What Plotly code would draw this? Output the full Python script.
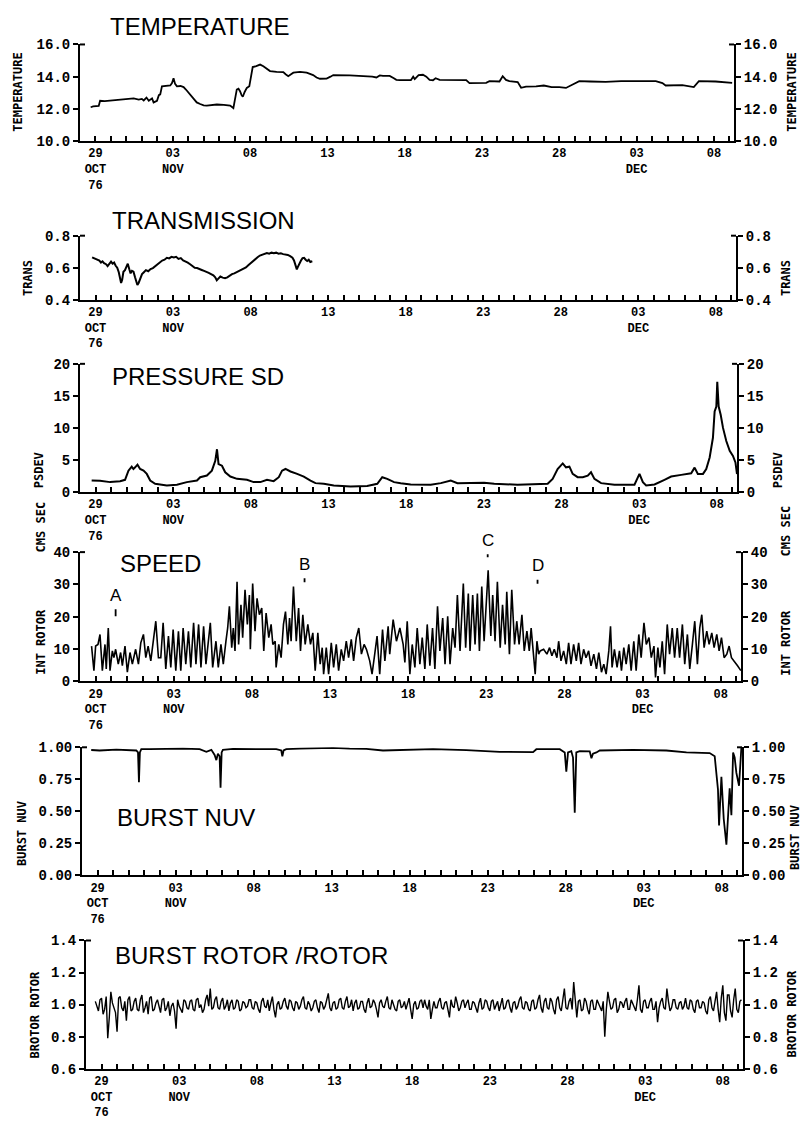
import plotly.graph_objects as go

W, H = 801, 1122

# ---------------- data (x = days since 28 Oct 1976 00:00) ----------------
TICK_DAYS = [1, 6, 11, 16, 21, 26, 31, 36, 41]
TICK_LABELS = ["29<br>OCT<br>76", "03<br>NOV", "08", "13", "18", "23", "28", "03<br>DEC", "08"]
X_RANGE = [0, 42.3]

TEMP_DAY = [0.69, 0.85, 1.21, 1.30, 1.60, 2.0, 2.61, 3.0, 3.47, 3.8, 4.0, 4.12, 4.3, 4.45, 4.66, 4.76,
            4.98, 5.10, 5.19, 5.30, 5.60, 5.84, 5.95, 6.05, 6.15, 6.27, 6.50, 6.70, 6.85, 7.02, 7.20,
            7.34, 7.55, 7.77, 8.00, 8.20, 8.50, 8.85, 9.30, 9.71, 9.92, 10.03, 10.14, 10.25, 10.35,
            10.45, 10.53, 10.65, 10.79, 10.95, 11.10, 11.17, 11.40, 11.65, 11.86, 12.05, 12.29, 12.72,
            13.15, 13.30, 13.47, 13.65, 13.80, 14.23, 14.66, 15.08, 15.30, 15.52, 15.95, 16.20, 16.38,
            17.45, 18.53, 18.90, 19.17, 19.39, 19.60, 20.03, 20.30, 20.46, 20.68, 21.40, 21.55, 21.65,
            21.90, 22.18, 22.40, 22.61, 22.83, 23.00, 23.26, 24.98, 25.19, 26.27, 26.48, 27.13, 27.34,
            27.55, 27.77, 28.31, 28.53, 28.85, 29.50, 30.00, 30.50, 31.00, 31.43, 31.86, 32.29, 33.00,
            34.00, 35.00, 36.00, 37.24, 37.67, 37.88, 38.96, 39.39, 39.70, 40.03, 41.11, 42.18]
TEMP_VAL = [12.10, 12.15, 12.18, 12.50, 12.48, 12.52, 12.55, 12.60, 12.65, 12.58, 12.62, 12.52, 12.70,
            12.50, 12.65, 12.40, 12.50, 12.85, 12.90, 13.40, 13.42, 13.45, 13.60, 13.90, 13.55, 13.40,
            13.42, 13.35, 13.20, 13.00, 12.80, 12.60, 12.40, 12.30, 12.22, 12.20, 12.25, 12.27, 12.25,
            12.20, 12.05, 12.70, 13.20, 13.25, 13.10, 12.85, 12.75, 13.05, 13.30, 13.40, 14.20, 14.60,
            14.65, 14.75, 14.65, 14.50, 14.35, 14.30, 14.28, 14.15, 14.03, 14.15, 14.25, 14.30, 14.25,
            14.10, 13.95, 13.87, 13.88, 14.00, 14.10, 14.08, 14.05, 14.00, 13.95, 14.08, 14.05, 14.05,
            13.90, 13.80, 13.78, 13.78, 14.00, 13.85, 14.10, 14.12, 14.00, 13.80, 13.78, 13.90, 13.80,
            13.78, 13.60, 13.62, 13.72, 13.70, 14.03, 13.80, 13.72, 13.66, 13.31, 13.38, 13.40, 13.45,
            13.35, 13.35, 13.30, 13.50, 13.72, 13.70, 13.68, 13.72, 13.70, 13.72, 13.60, 13.45, 13.48,
            13.38, 13.35, 13.72, 13.70, 13.62]

TRANS_DAY = [0.78, 0.95, 1.10, 1.25, 1.35, 1.45, 1.55, 1.68, 1.78, 1.90, 2.00, 2.10, 2.20, 2.30, 2.40,
             2.50, 2.58, 2.65, 2.72, 2.80, 2.90, 3.00, 3.08, 3.18, 3.26, 3.35, 3.45, 3.55, 3.62, 3.70,
             3.78, 3.88, 4.00, 4.12, 4.25, 4.40, 4.55, 4.70, 4.85, 5.00, 5.15, 5.30, 5.45, 5.60, 5.75,
             5.90, 6.05, 6.20, 6.35, 6.50, 6.65, 6.80, 6.95, 7.10, 7.25, 7.40, 7.55, 7.70, 7.85, 8.00,
             8.15, 8.30, 8.45, 8.60, 8.72, 8.82, 8.92, 9.05, 9.20, 9.35, 9.50, 9.65, 9.80, 9.95, 10.10,
             10.25, 10.40, 10.55, 10.70, 10.85, 11.00, 11.15, 11.30, 11.45, 11.60, 11.75, 11.90, 12.05,
             12.20, 12.35, 12.50, 12.65, 12.80, 12.95, 13.10, 13.25, 13.40, 13.55, 13.70, 13.80, 13.90,
             13.98, 14.05, 14.15, 14.25, 14.35, 14.45, 14.55, 14.65, 14.75, 14.85, 14.98]
TRANS_VAL = [0.665, 0.658, 0.650, 0.644, 0.632, 0.640, 0.628, 0.622, 0.610, 0.630, 0.638, 0.625, 0.632,
             0.612, 0.600, 0.572, 0.530, 0.505, 0.525, 0.575, 0.585, 0.615, 0.625, 0.590, 0.565, 0.580,
             0.575, 0.540, 0.510, 0.492, 0.505, 0.530, 0.560, 0.572, 0.585, 0.578, 0.592, 0.598, 0.610,
             0.622, 0.635, 0.645, 0.650, 0.662, 0.658, 0.668, 0.664, 0.668, 0.655, 0.660, 0.645, 0.640,
             0.632, 0.622, 0.610, 0.600, 0.598, 0.590, 0.586, 0.580, 0.575, 0.568, 0.560, 0.552, 0.540,
             0.522, 0.532, 0.545, 0.538, 0.535, 0.540, 0.552, 0.560, 0.565, 0.572, 0.580, 0.585, 0.595,
             0.602, 0.615, 0.628, 0.645, 0.655, 0.665, 0.676, 0.682, 0.690, 0.692, 0.688, 0.694, 0.690,
             0.694, 0.688, 0.690, 0.685, 0.682, 0.680, 0.672, 0.662, 0.645, 0.620, 0.590, 0.605, 0.630,
             0.645, 0.660, 0.662, 0.650, 0.642, 0.650, 0.636, 0.640]

PSD_DAY = [0.75, 1.29, 1.94, 2.58, 2.90, 3.12, 3.33, 3.44, 3.55, 3.70, 3.87, 4.09, 4.30, 4.52, 4.84,
           5.16, 5.59, 6.24, 6.88, 7.53, 7.74, 8.17, 8.49, 8.71, 8.82, 8.92, 9.14, 9.35, 9.68, 10.11,
           10.75, 11.18, 11.61, 12.04, 12.47, 12.80, 13.01, 13.23, 13.55, 13.98, 14.41, 14.84, 15.16,
           15.70, 16.34, 17.42, 18.49, 19.14, 19.46, 19.78, 20.22, 20.65, 21.29, 22.58, 23.23, 23.87,
           24.30, 26.02, 26.67, 28.17, 30.11, 30.43, 30.75, 31.08, 31.29, 31.51, 31.72, 32.04, 32.37,
           32.69, 32.90, 33.12, 33.55, 34.41, 35.70, 36.02, 36.24, 36.45, 36.99, 37.63, 38.06, 38.71,
           39.35, 39.57, 39.78, 40.11, 40.32, 40.54, 40.75, 40.86, 40.97, 41.03, 41.12, 41.25, 41.40,
           41.61, 41.83, 42.04, 42.20, 42.30]
PSD_VAL = [1.79, 1.75, 1.54, 1.69, 1.90, 3.33, 3.95, 3.59, 3.85, 4.26, 3.59, 3.33, 2.82, 1.79, 1.28,
           1.13, 1.03, 1.13, 1.54, 1.79, 2.31, 2.56, 3.33, 4.87, 6.67, 4.36, 4.10, 3.08, 2.41, 2.05,
           1.90, 1.54, 1.54, 1.90, 1.69, 2.31, 3.33, 3.59, 3.20, 2.82, 2.41, 1.79, 1.38, 1.28, 1.03,
           0.87, 0.92, 1.28, 2.31, 2.05, 1.54, 1.38, 1.18, 1.13, 1.38, 1.79, 1.38, 1.44, 1.28, 1.13,
           1.28, 2.05, 3.59, 4.46, 3.85, 3.95, 2.82, 2.31, 2.31, 2.56, 3.08, 2.05, 1.38, 1.13, 1.13,
           2.82, 1.54, 1.03, 1.18, 1.90, 2.41, 2.67, 2.92, 3.80, 2.82, 2.82, 3.59, 5.38, 8.46, 12.56,
           13.33, 17.18, 13.33, 12.05, 10.00, 7.95, 6.41, 5.64, 4.62, 2.80]

SPEED_DAY = [0.74, 0.89, 1.00, 1.15, 1.28, 1.43, 1.60, 1.68, 1.81, 1.92, 2.07, 2.17, 2.28, 2.45, 2.60,
             2.71, 2.88, 3.03, 3.20, 3.35, 3.56, 3.74, 3.89, 4.06, 4.21, 4.36, 4.53, 4.70, 4.85, 5.02,
             5.17, 5.32, 5.49, 5.66, 5.81, 5.96, 6.13, 6.30, 6.45, 6.60, 6.77, 6.94, 7.09, 7.27, 7.42,
             7.59, 7.74, 7.91, 8.06, 8.34, 8.49, 8.70, 8.85, 9.02, 9.17, 9.34, 9.45, 9.56, 9.71, 9.81,
             9.92, 10.05, 10.15, 10.30, 10.41, 10.56, 10.71, 10.84, 10.90, 11.05, 11.20, 11.33, 11.48,
             11.63, 11.76, 11.91, 12.08, 12.23, 12.34, 12.49, 12.55, 12.72, 12.87, 13.02, 13.15, 13.30,
             13.41, 13.51, 13.66, 13.84, 13.99, 14.11, 14.26, 14.41, 14.58, 14.75, 14.90, 15.05, 15.22,
             15.37, 15.50, 15.59, 15.76, 15.91, 16.08, 16.23, 16.40, 16.55, 16.72, 16.87, 17.04, 17.19,
             17.36, 17.51, 17.68, 17.84, 18.01, 18.18, 18.33, 18.54, 18.69, 18.86, 19.01, 19.18, 19.36,
             19.51, 19.72, 19.82, 20.04, 20.25, 20.47, 20.68, 20.79, 20.94, 21.11, 21.26, 21.43, 21.58,
             21.75, 21.90, 22.07, 22.22, 22.39, 22.56, 22.71, 22.88, 23.03, 23.21, 23.36, 23.53, 23.68,
             23.85, 24.00, 24.15, 24.32, 24.53, 24.68, 24.85, 24.96, 25.13, 25.28, 25.43, 25.56, 25.71,
             25.86, 26.12, 26.29, 26.41, 26.56, 26.71, 26.89, 27.04, 27.21, 27.31, 27.48, 27.63, 27.81,
             27.95, 28.10, 28.28, 28.43, 28.60, 28.75, 28.87, 29.02, 29.13, 29.24, 29.35, 29.45, 29.67,
             29.88, 30.05, 30.20, 30.35, 30.52, 30.63, 30.78, 30.95, 31.12, 31.27, 31.42, 31.59, 31.76,
             31.91, 32.06, 32.23, 32.38, 32.55, 32.70, 32.88, 33.05, 33.20, 33.37, 33.52, 33.67, 33.84,
             33.95, 34.05, 34.20, 34.37, 34.52, 34.65, 34.80, 34.95, 35.12, 35.27, 35.44, 35.59, 35.76,
             35.91, 36.09, 36.24, 36.41, 36.56, 36.73, 36.83, 36.98, 37.11, 37.26, 37.41, 37.58, 37.73,
             37.90, 38.05, 38.22, 38.37, 38.55, 38.70, 38.87, 39.02, 39.19, 39.34, 39.51, 39.66, 39.79,
             39.94, 40.11, 40.26, 40.43, 40.58, 40.75, 40.90, 41.05, 41.22, 41.39, 41.54, 41.69, 41.86,
             42.08, 42.29]
SPEED_VAL = [10.9, 3.3, 10.9, 11.4, 14.5, 3.3, 11.4, 3.8, 16.5, 3.3, 9.4, 7.3, 9.9, 5.3, 8.9,
             4.8, 10.9, 2.8, 8.9, 5.3, 9.9, 5.3, 11.9, 14.5, 7.3, 10.9, 6.3, 13.5, 18.6, 7.3,
             7.3, 18.1, 3.8, 14.0, 4.3, 16.0, 3.3, 15.5, 3.3, 16.5, 5.3, 15.5, 4.3, 18.1, 5.3,
             17.6, 4.3, 17.0, 5.3, 18.1, 4.3, 12.4, 4.3, 11.4, 5.3, 12.4, 16.5, 23.2, 10.4, 16.5,
             9.4, 30.8, 11.4, 23.7, 13.5, 28.3, 17.6, 26.7, 9.9, 30.3, 15.5, 25.7, 20.6,
             22.7, 9.4, 21.1, 13.5, 17.6, 11.4, 12.4, 4.3, 11.4, 7.3, 17.6, 21.6, 11.4,
             19.6, 12.4, 29.3, 12.4, 22.7, 9.4, 20.6, 11.4, 17.6, 11.4, 15.0, 3.3, 15.0,
             5.3, 10.4, 2.2, 10.4, 2.2, 11.9, 4.3, 11.4, 3.3, 9.9, 6.3, 12.4, 7.3,
             13.0, 6.3, 13.5, 16.5, 8.4, 11.4, 9.9, 6.3, 2.2, 8.4, 14.0, 2.2, 16.0,
             6.3, 17.0, 8.4, 19.1, 12.4, 16.5, 11.4, 5.8, 18.6, 2.2, 11.4, 4.3, 16.5,
             5.3, 13.5, 3.8, 17.6, 4.8, 16.5, 3.8, 23.2, 9.4, 19.6, 5.3, 20.1, 5.3,
             16.5, 10.4, 26.7, 9.4, 30.3, 10.4, 27.2, 9.4, 26.7, 11.4, 27.2, 9.4, 29.3,
             12.4, 34.4, 14.0, 26.7, 12.4, 30.8, 10.4, 23.7, 11.4, 27.7, 8.4, 28.3, 11.4,
             18.6, 11.4, 20.6, 9.4, 15.5, 9.4, 16.5, 7.3, 2.2, 12.4, 8.4, 9.4, 9.9,
             8.4, 10.4, 7.9, 9.9, 7.3, 12.4, 6.3, 9.4, 5.3, 11.9, 5.3, 11.4, 6.3,
             11.9, 5.3, 9.9, 7.3, 9.4, 4.8, 8.4, 3.8, 8.9, 2.8, 5.3, 2.2, 9.4,
             17.0, 4.3, 9.9, 4.3, 9.4, 3.3, 10.4, 5.3, 11.4, 3.3, 12.4, 3.3, 14.5,
             7.3, 18.1, 11.4, 13.5, 7.3, 10.9, 1.2, 10.4, 4.3, 12.4, 2.2, 17.6, 8.4,
             16.5, 7.3, 16.5, 7.3, 17.6, 5.3, 14.5, 3.8, 11.4, 18.6, 5.3, 16.5, 20.6,
             10.4, 15.5, 11.4, 15.0, 10.4, 14.5, 9.4, 13.5, 7.3, 8.4, 10.9, 7.3, 6.3,
             4.8, 3.3]

NUV_DAY = [0.59, 1.13, 2.20, 3.27, 3.48, 3.59, 3.65, 3.71, 3.80, 4.33, 5.40, 6.47, 7.54, 7.97, 8.29,
           8.50, 8.61, 8.71, 8.82, 8.88, 8.95, 9.03, 9.68, 10.74, 11.81, 12.45, 12.77, 12.84, 12.92,
           13.09, 13.95, 15.02, 16.09, 17.15, 18.22, 19.29, 20.36, 22.50, 24.63, 26.77, 28.91, 29.12,
           30.62, 30.94, 31.04, 31.15, 31.36, 31.47, 31.58, 31.68, 31.90, 32.54, 32.65, 32.75, 32.97,
           33.18, 35.32, 37.45, 38.74, 39.59, 40.23, 40.55, 40.66, 40.76, 40.83, 40.98, 41.13, 41.30,
           41.41, 41.51, 41.62, 41.73, 41.83, 41.94, 42.11, 42.20, 42.26]
NUV_VAL = [0.979, 0.975, 0.982, 0.978, 0.975, 0.960, 0.728, 0.960, 0.985, 0.985, 0.987, 0.990, 0.985,
           0.965, 0.980, 0.940, 0.900, 0.950, 0.930, 0.685, 0.960, 0.980, 0.987, 0.985, 0.987, 0.985,
           0.975, 0.930, 0.975, 0.985, 0.990, 0.992, 0.995, 0.990, 0.988, 0.975, 0.980, 0.985, 0.978,
           0.965, 0.962, 0.985, 0.985, 0.960, 0.810, 0.960, 0.970, 0.920, 0.490, 0.960, 0.970, 0.968,
           0.915, 0.950, 0.960, 0.975, 0.980, 0.975, 0.960, 0.958, 0.955, 0.930, 0.800, 0.670, 0.390,
           0.770, 0.440, 0.240, 0.470, 0.680, 0.470, 0.960, 0.920, 0.800, 0.700, 0.950, 1.000]

# burst rotor / rotor: samples every 0.2 day starting at day 0.6 (set A) and at day 0.7 (set B)
ROTOR_A_START = 0.6
ROTOR_B_START = 0.7
ROTOR_STEP_DAY = 0.2
ROTOR_A_VAL = [1.02, 0.96, 1.04, 0.97, 0.79, 1.08, 0.97, 0.83, 1.05, 0.96,
               0.90, 1.05, 0.97, 1.04, 0.96, 1.06, 0.98, 0.94, 1.05, 0.97,
               1.03, 0.95, 1.04, 0.98, 0.93, 1.01, 0.85, 0.99, 0.95, 1.02,
               0.97, 1.03, 0.96, 1.04, 1.00, 0.97, 1.06, 1.10, 0.98, 1.05,
               0.97, 1.04, 0.99, 0.96, 1.03, 0.98, 1.02, 0.97, 1.01, 0.99,
               1.03, 0.97, 1.01, 0.95, 1.04, 0.98, 0.96, 1.05, 0.92, 1.02,
               0.98, 1.04, 0.97, 1.02, 0.96, 1.01, 0.99, 1.05, 0.97, 1.00,
               0.98, 1.03, 0.95, 1.01, 0.99, 1.07, 0.96, 1.02, 0.98, 1.04,
               0.97, 1.05, 0.99, 0.96, 1.03, 0.98, 1.02, 0.95, 1.04, 0.99,
               1.01, 0.92, 1.03, 0.98, 1.05, 0.97, 1.00, 0.96, 1.03, 0.99,
               0.97, 1.04, 0.91, 1.02, 0.98, 1.03, 1.03, 0.97, 0.91, 1.02,
               0.98, 1.04, 0.97, 1.02, 0.92, 0.99, 1.05, 0.96, 1.02, 0.98,
               1.03, 0.97, 1.01, 0.95, 1.04, 0.98, 1.02, 0.96, 1.03, 0.99,
               0.96, 1.04, 0.98, 1.03, 0.95, 1.02, 0.99, 1.05, 0.97, 1.01,
               0.96, 1.03, 0.98, 1.06, 0.95, 1.04, 0.97, 1.02, 0.94, 1.05,
               0.96, 1.10, 0.97, 1.04, 1.14, 0.92, 1.03, 0.97, 1.02, 0.94,
               1.03, 0.97, 1.01, 0.96, 0.80, 1.08, 0.97, 1.03, 0.95, 1.02,
               0.98, 1.04, 0.97, 1.01, 0.96, 1.12, 0.95, 1.03, 0.98, 1.04,
               0.97, 0.89, 1.02, 0.98, 1.10, 0.96, 1.03, 0.98, 1.01, 0.97,
               1.04, 0.97, 1.02, 0.95, 1.03, 0.98, 1.01, 0.94, 1.05, 0.96,
               1.08, 0.89, 1.12, 0.90, 1.06, 0.92, 1.10, 0.95, 1.03]
ROTOR_B_VAL = [0.99, 1.03, 0.94, 1.05, 0.92, 1.01, 0.95, 1.04, 0.98, 1.02,
               1.03, 0.96, 1.02, 0.97, 1.03, 0.95, 1.02, 1.04, 0.96, 1.01,
               0.98, 1.03, 0.96, 1.02, 0.99, 0.96, 1.03, 0.97, 1.03, 0.98,
               1.02, 0.97, 1.03, 0.98, 0.95, 1.03, 0.99, 0.97, 1.03, 0.98,
               1.02, 0.97, 1.03, 1.01, 0.97, 1.03, 0.96, 1.02, 0.98, 1.03,
               0.98, 1.02, 0.97, 1.02, 0.99, 1.03, 1.01, 0.97, 1.00, 0.97,
               1.02, 0.99, 1.03, 0.98, 1.02, 0.97, 1.03, 0.98, 1.02, 0.96,
               1.02, 0.98, 1.02, 0.97, 1.03, 0.98, 1.01, 0.97, 1.03, 0.98,
               1.02, 0.98, 1.03, 1.01, 0.97, 1.02, 0.97, 1.01, 0.98, 1.03,
               0.97, 1.01, 0.99, 1.02, 0.98, 1.03, 0.97, 1.02, 0.98, 1.02,
               1.01, 0.97, 1.00, 0.97, 1.02, 0.98, 0.99, 1.03, 0.97, 0.98,
               1.02, 0.98, 1.01, 0.97, 1.03, 0.98, 1.01, 0.98, 1.03, 1.01,
               0.97, 1.02, 0.98, 1.01, 0.97, 1.03, 0.98, 1.02, 0.97, 1.02,
               1.01, 0.97, 1.02, 0.98, 1.01, 0.97, 1.03, 0.98, 1.02, 0.97,
               1.02, 0.97, 1.03, 0.98, 1.02, 0.98, 1.04, 0.97, 1.03, 0.98,
               1.03, 0.98, 1.02, 0.97, 1.03, 1.02, 0.96, 1.04, 0.97, 1.02,
               0.97, 1.03, 0.98, 1.02, 0.97, 1.02, 0.98, 1.04, 0.97, 1.01,
               1.02, 0.97, 1.03, 0.98, 1.03, 0.97, 1.02, 0.98, 1.02, 0.97,
               1.02, 0.98, 1.04, 0.97, 1.02, 0.98, 1.03, 0.97, 1.02, 0.99,
               0.98, 1.03, 0.97, 1.02, 0.98, 1.02, 0.96, 1.03, 0.98, 1.02,
               0.97, 1.04, 0.95, 1.06, 0.96, 1.03, 0.97, 1.02]
_rotor = sorted(
    [(round(ROTOR_A_START + ROTOR_STEP_DAY * i, 2), v) for i, v in enumerate(ROTOR_A_VAL)]
    + [(round(ROTOR_B_START + ROTOR_STEP_DAY * i, 2), v) for i, v in enumerate(ROTOR_B_VAL)])
ROTOR_DAY = [d for d, _ in _rotor]
ROTOR_VAL = [v for _, v in _rotor]

# speed event markers: label, day, value at bottom of marker tick
EVENT_LABELS = ["A", "B", "C", "D"]
EVENT_DAY = [2.28, 14.37, 26.09, 29.28]
EVENT_VAL = [20.1, 30.7, 38.4, 30.2]

# ---------------- panel definitions ----------------
panels = [
    dict(day=TEMP_DAY, val=TEMP_VAL, yr=[10, 16], yt=[10, 12, 14, 16], fmt="{:.1f}",
         title="TEMPERATURE", ytitle="TEMPERATURE", lw=1.8,
         box=(80, 734, 38, 136), tpos=(108, 20), lt=(18, 87), rt=(792, 87)),
    dict(day=TRANS_DAY, val=TRANS_VAL, yr=[0.4, 0.8], yt=[0.4, 0.6, 0.8], fmt="{:.1f}",
         title="TRANSMISSION", ytitle="TRANS", lw=2.0,
         box=(80, 736, 232, 297), tpos=(110, 217), lt=(28, 275), rt=(786, 275)),
    dict(day=PSD_DAY, val=PSD_VAL, yr=[0, 20], yt=[0, 5, 10, 15, 20], fmt="{:.0f}",
         title="PRESSURE SD", ytitle="PSDEV", lw=2.0,
         box=(80, 737, 362, 492), tpos=(110, 375), lt=(39, 470), rt=(778, 470)),
    dict(day=SPEED_DAY, val=SPEED_VAL, yr=[0, 40], yt=[0, 10, 20, 30, 40], fmt="{:.0f}",
         title="SPEED", ytitle="INT ROTOR", lw=1.6,
         box=(80, 741, 553, 684), tpos=(118, 565), lt=(41, 644), rt=(786, 645)),
    dict(day=NUV_DAY, val=NUV_VAL, yr=[0, 1], yt=[0, 0.25, 0.5, 0.75, 1.0], fmt="{:.2f}",
         title="BURST NUV", ytitle="BURST NUV", lw=1.8,
         box=(82, 742, 751, 881), tpos=(115, 822), lt=(22, 839), rt=(795, 843)),
    dict(day=ROTOR_DAY, val=ROTOR_VAL, yr=[0.6, 1.4], yt=[0.6, 0.8, 1.0, 1.2, 1.4], fmt="{:.1f}",
         title="BURST ROTOR /ROTOR", ytitle="BROTOR ROTOR", lw=1.4,
         box=(86, 743, 947, 1077), tpos=(113, 962), lt=(35, 1023), rt=(792, 1022)),
]

MONO = "DejaVu Sans Mono"
TICK_FONT = "Liberation Mono"
SANS = "Liberation Sans"


def bold(label):
    return "<br>".join(f"<b>{part}</b>" for part in label.split("<br>"))


x_ticktext = [bold(t) for t in TICK_LABELS]

fig = go.Figure()
layout = dict(width=W, height=H, margin=dict(l=0, r=0, t=0, b=0), autosize=False,
              paper_bgcolor="white", plot_bgcolor="white", showlegend=False)
annotations = []
shapes = []


def px(x):
    return x / W


def py(y):
    return 1 - y / H


for i, p in enumerate(panels):
    n = i + 1
    xa = "x" if n == 1 else f"x{n}"
    ya = "y" if n == 1 else f"y{n}"
    yr_name = f"y{n + 6}"
    x0, x1, y0, y1 = p["box"]
    fig.add_trace(go.Scatter(x=p["day"], y=p["val"], xaxis=xa, yaxis=ya, mode="lines",
                             line=dict(color="black", width=p["lw"]), hoverinfo="skip"))
    fig.add_trace(go.Scatter(x=p["day"], y=p["val"], xaxis=xa, yaxis=yr_name, mode="lines",
                             line=dict(color="black", width=0), opacity=0, hoverinfo="skip"))
    ytext = [bold(p["fmt"].format(v)) for v in p["yt"]]
    layout["xaxis" if n == 1 else f"xaxis{n}"] = dict(
        domain=[px(x0), px(x1)], anchor=ya, range=X_RANGE, tickmode="array",
        tickvals=TICK_DAYS, ticktext=x_ticktext, ticks="inside", ticklen=5, tickwidth=1.6,
        tickcolor="black", showline=True, linewidth=2, linecolor="black", showgrid=False,
        zeroline=False, tickfont=dict(family=TICK_FONT, size=12, color="black"),
        tickangle=0,
        minor=dict(tickmode="linear", tick0=0, dtick=1, ticks="inside", ticklen=5,
                   tickwidth=1.6, tickcolor="black"))
    common_y = dict(range=p["yr"], tickmode="array", tickvals=p["yt"], ticktext=ytext,
                    ticks="outside", ticklen=5, tickwidth=1.6, tickcolor="black",
                    showline=True, linewidth=2, linecolor="black", showgrid=False,
                    zeroline=False, tickfont=dict(family=TICK_FONT, size=14, color="black"))
    layout["yaxis" if n == 1 else f"yaxis{n}"] = dict(domain=[py(y1), py(y0)], anchor=xa,
                                                      side="left", **common_y)
    layout[f"yaxis{n + 6}"] = dict(overlaying=ya, anchor=xa, side="right", **common_y)

    # small inward caps at the top of both vertical axes
    shapes.append(dict(type="line", xref="paper", yref="paper", x0=px(x0), x1=px(x0 + 5),
                       y0=py(y0), y1=py(y0), line=dict(color="black", width=2)))
    shapes.append(dict(type="line", xref="paper", yref="paper", x0=px(x1 - 5), x1=px(x1),
                       y0=py(y0), y1=py(y0), line=dict(color="black", width=2)))

    annotations.append(dict(text=p["title"], x=px(p["tpos"][0]), y=py(p["tpos"][1]), xref="paper",
                            yref="paper", xanchor="left", yanchor="middle", showarrow=False,
                            font=dict(family=SANS, size=24, color="black")))
    for (ax_, ay_) in (p["lt"], p["rt"]):
        annotations.append(dict(text=f"<b>{p['ytitle']}</b>", x=px(ax_), y=py(ay_), xref="paper",
                                yref="paper", xanchor="center", yanchor="middle", textangle=-90,
                                showarrow=False, font=dict(family=MONO, size=12, color="black")))

# extra units label for speed panel
for (ax_, ay_) in ((41, 528), (786, 532)):
    annotations.append(dict(text="<b>CMS SEC</b>", x=px(ax_), y=py(ay_), xref="paper", yref="paper",
                            xanchor="center", yanchor="middle", textangle=-90, showarrow=False,
                            font=dict(family=MONO, size=12, color="black")))

# event markers on speed panel
AY = [-21, -18, -17, -18]
for lab, d, v, ay in zip(EVENT_LABELS, EVENT_DAY, EVENT_VAL, AY):
    annotations.append(dict(text=lab, x=d, y=v, xref="x4", yref="y4", showarrow=True,
                            arrowhead=0, arrowwidth=1.8, arrowcolor="black", ax=0, ay=ay,
                            startstandoff=3, font=dict(family=SANS, size=17, color="black")))

layout["annotations"] = annotations
layout["shapes"] = shapes
fig.update_layout(**layout)
fig.write_html("out.html")
